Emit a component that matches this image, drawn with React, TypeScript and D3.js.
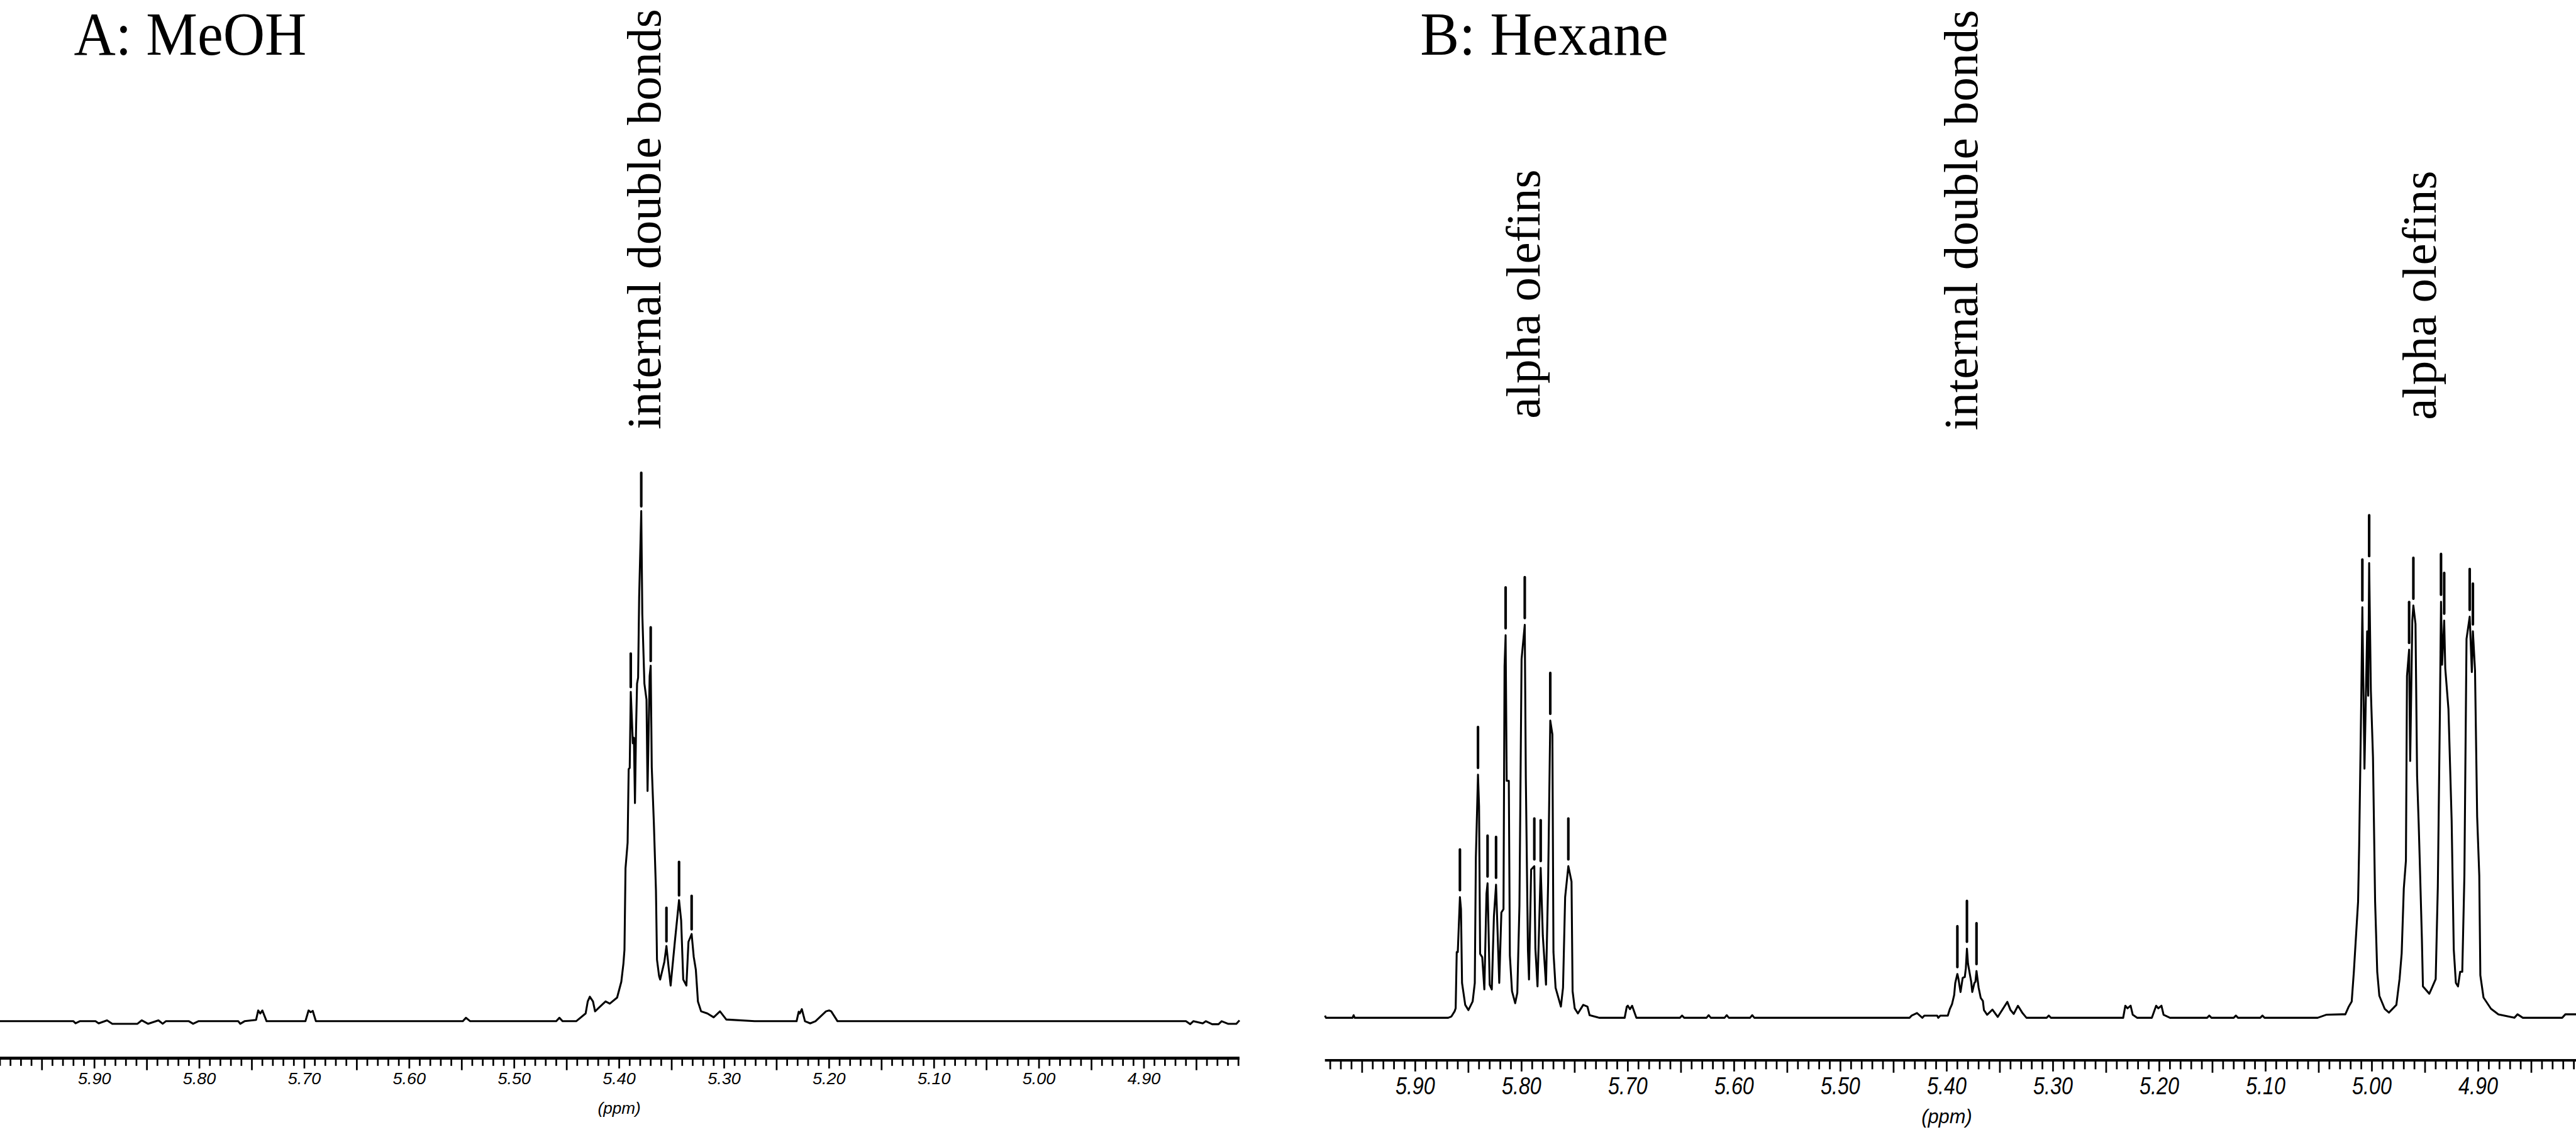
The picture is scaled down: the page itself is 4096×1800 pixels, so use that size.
import React from "react";
import * as d3 from "d3";

type Pt = [number, number];

// axis tick labels shared by both spectra (ppm)
const tickLabels = ["5.90", "5.80", "5.70", "5.60", "5.50", "5.40", "5.30", "5.20", "5.10", "5.00", "4.90"];

const titleA = "A: MeOH";
const titleB = "B: Hexane";
const notesA = ["internal double bonds"];
const notesB = ["alpha olefins", "internal double bonds", "alpha olefins"];

// MeOH spectrum, [ppm, intensity a.u.]
const meohTrace: Pt[] = [
    [5.990, 0], [5.920, 0], [5.918, -0.5], [5.914, 0], [5.899, 0], [5.896, -0.5],
    [5.888, 0.2], [5.883, -0.6], [5.859, -0.6], [5.855, 0.2], [5.849, -0.6],
    [5.839, 0.2], [5.835, -0.6], [5.832, 0], [5.810, 0], [5.806, -0.6], [5.801, 0],
    [5.763, 0], [5.761, -0.6], [5.757, 0], [5.746, 0.3], [5.744, 2.5], [5.742, 1.8],
    [5.740, 2.5], [5.736, 0], [5.699, 0], [5.696, 2.5], [5.694, 2.1], [5.692, 2.4],
    [5.689, 0], [5.549, 0], [5.546, 0.8], [5.542, 0], [5.460, 0], [5.457, 0.8],
    [5.454, 0], [5.441, 0], [5.432, 1.8], [5.430, 4.6], [5.428, 5.7], [5.425, 4.6],
    [5.423, 2.3], [5.417, 3.7], [5.413, 4.6], [5.409, 4.1], [5.402, 5.5], [5.398, 9.2],
    [5.396, 13.4], [5.395, 16.6], [5.394, 35.6], [5.392, 41.6], [5.391, 58.7],
    [5.390, 59], [5.389, 76.7], [5.387, 64.7], [5.386, 66], [5.385, 50.8],
    [5.384, 67.5], [5.383, 78.6], [5.382, 80], [5.381, 98.9], [5.379, 118.8],
    [5.378, 94.8], [5.376, 78.6], [5.374, 74.9], [5.373, 53.6], [5.371, 80.4],
    [5.370, 82.8], [5.369, 59.2], [5.367, 46.2], [5.365, 30.5], [5.364, 14.3],
    [5.362, 10.5], [5.361, 9.7], [5.357, 13.8], [5.355, 17.5], [5.353, 12.7],
    [5.351, 8.3], [5.347, 18.5], [5.343, 28.2], [5.341, 23.5], [5.339, 9.7],
    [5.336, 8.3], [5.334, 18.5], [5.331, 20.3], [5.329, 15], [5.327, 12],
    [5.325, 4.6], [5.322, 2.3], [5.316, 1.8], [5.310, 0.9], [5.304, 2.3],
    [5.298, 0.4], [5.271, 0], [5.231, 0], [5.229, 2.2], [5.228, 1.8], [5.226, 2.8],
    [5.223, 0], [5.218, -0.5], [5.213, 0], [5.203, 2.3], [5.200, 2.5], [5.198, 2.3],
    [5.192, 0], [4.860, 0], [4.856, -0.7], [4.853, 0], [4.844, -0.5], [4.841, 0],
    [4.835, -0.7], [4.829, -0.7], [4.826, 0], [4.820, -0.6], [4.812, -0.6], [4.809, 0.2],
];
const meohPeaks = [5.389, 5.379, 5.370, 5.355, 5.343, 5.331];

// Hexane spectrum, [ppm, intensity a.u.]
const hexaneTrace: Pt[] = [
    [5.985, 0.5], [5.984, 0], [5.959, 0], [5.958, 0.6], [5.957, 0], [5.869, 0],
    [5.866, 0.3], [5.863, 1.5], [5.862, 2.2], [5.861, 15.3], [5.860, 15.3],
    [5.858, 28.1], [5.857, 25.3], [5.856, 8.1], [5.853, 3], [5.850, 1.8],
    [5.846, 3.8], [5.844, 8.1], [5.843, 37.3], [5.841, 56.6], [5.840, 49.2],
    [5.839, 14.9], [5.837, 14.1], [5.835, 6.6], [5.833, 28.9], [5.832, 31.3],
    [5.831, 19.7], [5.830, 7.7], [5.828, 6.6], [5.826, 23.7], [5.824, 31],
    [5.823, 23.3], [5.821, 8.1], [5.819, 24.5], [5.817, 25.3], [5.816, 81.9],
    [5.815, 89.1], [5.814, 55.2], [5.812, 55.2], [5.811, 14.5], [5.809, 6.2],
    [5.806, 3.4], [5.804, 5.8], [5.802, 26.1], [5.800, 83.5], [5.797, 91.5],
    [5.796, 56], [5.794, 15.7], [5.793, 8.9], [5.791, 34.5], [5.788, 35.3],
    [5.787, 16.1], [5.785, 7.3], [5.782, 34.9], [5.780, 19.1], [5.777, 7.7],
    [5.775, 31.7], [5.773, 69.2], [5.771, 66], [5.770, 15.3], [5.768, 7],
    [5.763, 2.6], [5.761, 7], [5.759, 28.1], [5.756, 35.3], [5.753, 31.7],
    [5.752, 6.2], [5.750, 2.2], [5.747, 1], [5.744, 2.2], [5.742, 3], [5.738, 2.6],
    [5.736, 0.6], [5.727, 0], [5.703, 0], [5.701, 2.6], [5.700, 2.8], [5.698, 2.0],
    [5.696, 2.8], [5.692, 0], [5.651, 0], [5.649, 0.5], [5.647, 0], [5.626, 0],
    [5.624, 0.6], [5.622, 0], [5.609, 0], [5.607, 0.6], [5.605, 0], [5.585, 0],
    [5.583, 0.6], [5.581, 0], [5.435, 0], [5.433, 0.5], [5.428, 1.1], [5.423, 0],
    [5.421, 0.5], [5.409, 0.5], [5.408, 0], [5.406, 0.5], [5.399, 0.5], [5.397, 2.1],
    [5.395, 3.2], [5.393, 5.3], [5.392, 8.1], [5.390, 10.2], [5.389, 9.1],
    [5.3875, 6.7], [5.387, 6], [5.385, 9.3], [5.383, 9.5], [5.382, 11.6],
    [5.381, 16.1], [5.380, 12.6], [5.378, 9.8], [5.377, 8.4], [5.376, 6],
    [5.374, 8.1], [5.373, 8.4], [5.372, 10.9], [5.370, 7], [5.368, 4.6],
    [5.366, 3.9], [5.365, 1.8], [5.362, 0.7], [5.357, 1.9], [5.352, 0.2],
    [5.343, 3.7], [5.340, 1.8], [5.337, 0.9], [5.333, 2.8], [5.329, 1.2], [5.325, 0],
    [5.306, 0], [5.304, 0.5], [5.302, 0], [5.234, 0], [5.232, 2.8], [5.230, 2.2],
    [5.227, 2.8], [5.225, 0.7], [5.221, 0], [5.207, 0], [5.203, 2.8], [5.201, 2.2],
    [5.198, 2.8], [5.196, 0.7], [5.190, 0], [5.155, 0], [5.153, 0.5], [5.151, 0],
    [5.130, 0], [5.128, 0.5], [5.126, 0], [5.105, 0], [5.103, 0.5], [5.101, 0],
    [5.051, 0], [5.043, 0.7], [5.028, 0.8], [5.025, 0.8], [5.022, 2.5], [5.019, 3.8],
    [5.017, 10.7], [5.013, 27.1], [5.012, 40], [5.010, 74.5], [5.009, 95.6],
    [5.007, 58], [5.0045, 90], [5.0035, 75], [5.0026, 105.9], [5.001, 76.2],
    [4.999, 60.7], [4.997, 27.1], [4.995, 10.7], [4.993, 5.1], [4.988, 2.1],
    [4.984, 1.2], [4.977, 3], [4.974, 9], [4.972, 15], [4.970, 30.1], [4.968, 36.6],
    [4.967, 79.6], [4.965, 85.7], [4.964, 59.8], [4.962, 92.5], [4.961, 96],
    [4.959, 91.7], [4.9575, 56.4], [4.956, 45.2], [4.955, 36.6], [4.953, 18.5],
    [4.952, 7.3], [4.946, 5.6], [4.943, 7.3], [4.940, 9], [4.938, 30.5],
    [4.936, 71.9], [4.935, 96.9], [4.934, 82.2], [4.932, 92.5], [4.931, 81.4],
    [4.928, 71.9], [4.927, 63.3], [4.925, 46], [4.923, 15.9], [4.921, 8.1],
    [4.919, 7.3], [4.917, 10.7], [4.915, 10.7], [4.913, 33.1], [4.911, 88.2],
    [4.908, 93.4], [4.906, 80.5], [4.905, 90], [4.903, 80.9], [4.901, 46.9],
    [4.899, 33.1], [4.898, 9.9], [4.895, 4.7], [4.888, 2.1], [4.881, 0.8],
    [4.866, 0], [4.863, 0.8], [4.858, 0], [4.821, 0], [4.818, 0.8], [4.808, 0.8],
];
const hexanePeaks = [
    5.858, 5.841, 5.832, 5.824, 5.815, 5.797, 5.788, 5.782, 5.773, 5.756,
    5.390, 5.381, 5.372,
    5.009, 5.0026, 4.965, 4.961, 4.935, 4.932, 4.908, 4.905,
];

type PanelProps = {
    trace: Pt[];
    peaks: number[];
    domain: [number, number];
    range: [number, number];
    baseline: number;
    axisY: number;
    axisWidth: number;
    tickLen: { minor: number; mid: number; major: number };
    labelY: number;
    labelSize: number;
    labelWidth: number;
    unitY: number;
    unitSize: number;
    unitWidth: number;
    markGap: number;
    markLen: number;
    title: string;
    titleX: number;
    titleWidth: number;
    notes: string[];
    notePos: { ppm: number; y: number }[];
};

function Panel(p: PanelProps) {
    const x = d3.scaleLinear().domain(p.domain).range(p.range);
    const y = d3.scaleLinear().domain([0, 130]).range([p.baseline, p.baseline - 1300]);

    const line = d3
        .line<Pt>()
        .x((d) => x(d[0]))
        .y((d) => y(d[1]));

    const lo = Math.min(...p.domain);
    const hi = Math.max(...p.domain);
    const ticks = d3
        .range(Math.ceil(lo * 100 - 1e-6), Math.floor(hi * 100 + 1e-6) + 1)
        .map((v) => ({
            v,
            len: v % 10 === 0 ? p.tickLen.mid : v % 5 === 0 ? p.tickLen.major : p.tickLen.minor,
        }));

    return (
        <g>
            <text
                x={p.titleX}
                y={128}
                fontFamily="'Liberation Serif', 'Times New Roman', serif"
                fontSize={143}
                textLength={p.titleWidth}
                lengthAdjust="spacingAndGlyphs"
            >
                {p.title}
            </text>

            {p.notes.map((t, i) => {
                const nx = x(p.notePos[i].ppm);
                const ny = p.notePos[i].y;
                return (
                    <text
                        key={i}
                        transform={`translate(${nx},${ny}) rotate(-90)`}
                        fontFamily="'Liberation Serif', 'Times New Roman', serif"
                        fontSize={113}
                    >
                        {t}
                    </text>
                );
            })}

            <path
                d={line(p.trace) || ""}
                fill="none"
                stroke="#000"
                strokeWidth={4.5}
                strokeLinejoin="round"
            />

            {p.peaks.map((pk) => {
                const pt = p.trace.find((d) => Math.abs(d[0] - pk) < 1e-6);
                if (!pt) return null;
                const y0 = y(pt[1]) - p.markGap;
                return (
                    <line
                        key={pk}
                        x1={x(pk)}
                        x2={x(pk)}
                        y1={y0}
                        y2={y0 - p.markLen}
                        stroke="#000"
                        strokeWidth={6}
                        strokeLinecap="round"
                    />
                );
            })}

            <line
                x1={p.range[0]}
                x2={p.range[1]}
                y1={p.axisY}
                y2={p.axisY}
                stroke="#000"
                strokeWidth={p.axisWidth}
            />
            {ticks.map((t) => (
                <line
                    key={t.v}
                    x1={x(t.v / 100)}
                    x2={x(t.v / 100)}
                    y1={p.axisY}
                    y2={p.axisY + t.len}
                    stroke="#000"
                    strokeWidth={4}
                />
            ))}
            {tickLabels.map((l) => (
                <text
                    key={l}
                    x={x(parseFloat(l)) - p.labelWidth / 2}
                    y={p.labelY}
                    fontFamily="'Liberation Sans', Arial, sans-serif"
                    fontStyle="italic"
                    fontSize={p.labelSize}
                    textLength={p.labelWidth}
                    lengthAdjust="spacingAndGlyphs"
                >
                    {l}
                </text>
            ))}
            <text
                x={x(5.4) - p.unitWidth / 2}
                y={p.unitY}
                fontFamily="'Liberation Sans', Arial, sans-serif"
                fontStyle="italic"
                fontSize={p.unitSize}
                textLength={p.unitWidth}
                lengthAdjust="spacingAndGlyphs"
            >
                (ppm)
            </text>
        </g>
    );
}

export default function App() {
    return (
        <svg
            viewBox="0 0 6000 2636"
            width={4096}
            height={1800}
            preserveAspectRatio="none"
            style={{ position: "absolute", left: 0, top: 0, background: "#fff" }}
        >
            <rect x={0} y={0} width={6000} height={2636} fill="#fff" />
            <Panel
                trace={meohTrace}
                peaks={meohPeaks}
                domain={[5.99, 4.809]}
                range={[0, 2887]}
                baseline={2378}
                axisY={2464}
                axisWidth={7}
                tickLen={{ minor: 18, mid: 24, major: 28 }}
                labelY={2525}
                labelSize={38}
                labelWidth={77}
                unitY={2594}
                unitSize={38}
                unitWidth={100}
                markGap={11}
                markLen={78}
                title={titleA}
                titleX={172}
                titleWidth={542}
                notes={notesA}
                notePos={[{ ppm: 5.361, y: 1000 }]}
            />
            <Panel
                trace={hexaneTrace}
                peaks={hexanePeaks}
                domain={[5.985, 4.808]}
                range={[3086, 6000]}
                baseline={2370}
                axisY={2469}
                axisWidth={6}
                tickLen={{ minor: 21, mid: 26, major: 29 }}
                labelY={2548}
                labelSize={56}
                labelWidth={92}
                unitY={2615}
                unitSize={46}
                unitWidth={118}
                markGap={16}
                markLen={95}
                title={titleB}
                titleX={3308}
                titleWidth={578}
                notes={notesB}
                notePos={[
                    { ppm: 5.783, y: 975 },
                    { ppm: 5.371, y: 1002 },
                    { ppm: 4.94, y: 978 },
                ]}
            />
        </svg>
    );
}
